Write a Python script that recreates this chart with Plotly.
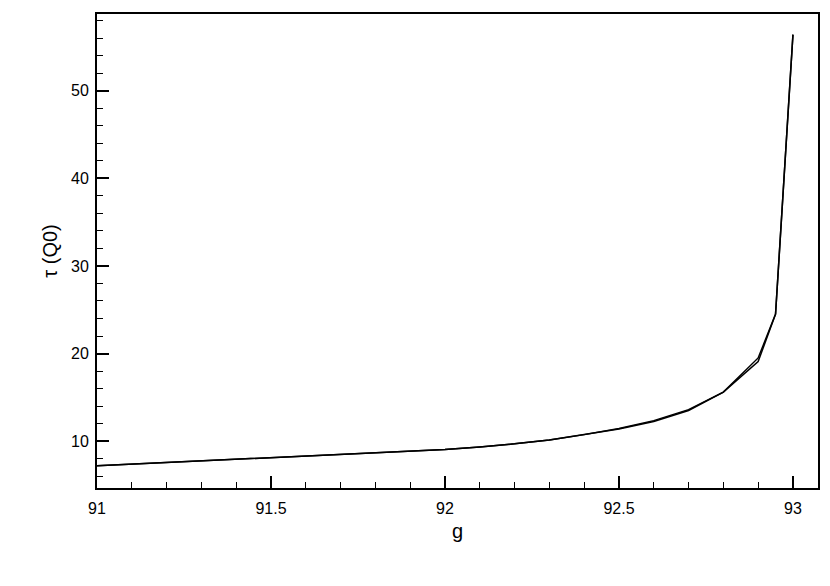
import plotly.graph_objects as go

g_vals = [91, 92, 92.1, 92.2, 92.3, 92.4, 92.5, 92.6, 92.7, 92.8, 92.9, 92.95, 93]
tau_a = [7.2, 9.05, 9.35, 9.7, 10.15, 10.75, 11.45, 12.35, 13.6, 15.6, 19.5, 24.5, 56.4]
tau_b = [7.2, 9.05, 9.35, 9.7, 10.15, 10.75, 11.4, 12.25, 13.5, 15.6, 19.1, 24.5, 56.4]

x_ticks = [91, 91.5, 92, 92.5, 93]
x_labels = ["91", "91.5", "92", "92.5", "93"]
y_ticks = [10, 20, 30, 40, 50]
y_labels = ["10", "20", "30", "40", "50"]

fig = go.Figure()
for t in (tau_a, tau_b):
    fig.add_trace(go.Scatter(x=g_vals, y=t, mode="lines",
                             line=dict(color="black", width=1.5),
                             showlegend=False))

font_family = "Liberation Sans, Arial, sans-serif"
fig.update_layout(
    width=830, height=586,
    margin=dict(l=89, r=20, t=4, b=106),
    paper_bgcolor="white", plot_bgcolor="white",
    font=dict(family=font_family, color="black", size=16),
    xaxis=dict(range=[91, 93.072], tickvals=x_ticks, ticktext=x_labels,
               showgrid=False, zeroline=False,
               showline=True, linecolor="black", linewidth=2, mirror=True,
               ticks="inside", ticklen=12, tickwidth=2, tickcolor="black",
               minor=dict(dtick=0.1, ticks="inside", ticklen=6, tickwidth=1,
                          tickcolor="black", showgrid=False),
               tickfont=dict(size=16), ticklabelstandoff=5,
               title=dict(text="g", font=dict(size=20), standoff=8)),
    yaxis=dict(range=[4.66, 58.75], tickvals=y_ticks, ticktext=y_labels,
               showgrid=False, zeroline=False,
               showline=True, linecolor="black", linewidth=2, mirror=True,
               ticks="inside", ticklen=12, tickwidth=2, tickcolor="black",
               minor=dict(dtick=2, ticks="inside", ticklen=6, tickwidth=1,
                          tickcolor="black", showgrid=False),
               tickfont=dict(size=16), ticklabelstandoff=3,
               title=dict(text="τ (Q0)", font=dict(size=20), standoff=8)),
)

fig.write_html("out.html")
